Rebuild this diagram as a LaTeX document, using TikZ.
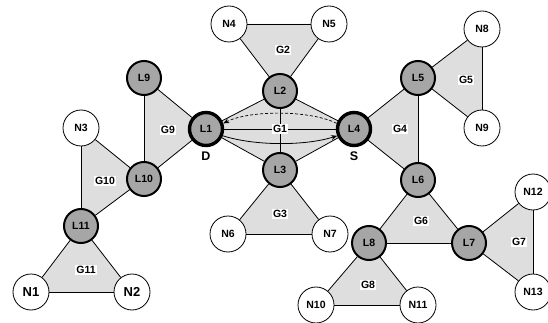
\documentclass[tikz,border=0pt]{standalone}
\usepackage{fontspec}
\setmainfont{Liberation Sans}
\usetikzlibrary{arrows.meta,backgrounds}
\begin{document}
\begin{tikzpicture}[x=1pt,y=-1pt,
  every node/.style={font=\bfseries\fontsize{10.5}{11}\selectfont},
  nnode/.style={circle,draw=black,line width=0.8pt,fill=white,minimum size=36pt,inner sep=0pt},
  lnode/.style={circle,draw=black,line width=2pt,fill=black!35,minimum size=34pt,inner sep=0pt},
  snode/.style={circle,draw=black,line width=3.4pt,fill=black!35,minimum size=33pt,inner sep=0pt},
  glabel/.style={fill=white,inner sep=1pt},
  tri/.style={fill=black!13},
  edge/.style={draw=black,line width=0.8pt},
  tip/.style={-{Stealth[length=6pt,width=5pt]}}
]
\useasboundingbox (0,0) rectangle (548,323);
% nodes
\node[nnode] (N4) at (229,24) {N4};
\node[nnode] (N5) at (329,24) {N5};
\node[lnode] (L2) at (280,91) {L2};
\node[snode] (L1) at (206,129) {L1};
\node[snode] (L4) at (354,129) {L4};
\node[lnode] (L3) at (280,170) {L3};
\node[nnode] (N6) at (228,234) {N6};
\node[nnode] (N7) at (330,234) {N7};
\node[lnode] (L9) at (144,78) {L9};
\node[nnode] (N3) at (81,128) {N3};
\node[lnode] (L10) at (144,179) {L10};
\node[lnode] (L11) at (81,226) {L11};
\node[nnode,font=\bfseries\fontsize{13}{14}\selectfont] (N1) at (31,292) {N1};
\node[nnode,font=\bfseries\fontsize{13}{14}\selectfont] (N2) at (132,292) {N2};
\node[lnode] (L5) at (418,78) {L5};
\node[nnode] (N8) at (482,29) {N8};
\node[nnode] (N9) at (482,128) {N9};
\node[lnode] (L6) at (418,180) {L6};
\node[lnode] (L8) at (369,243) {L8};
\node[lnode] (L7) at (469,243) {L7};
\node[nnode] (N12) at (533,192) {N12};
\node[nnode] (N13) at (533,292) {N13};
\node[nnode] (N10) at (316,305) {N10};
\node[nnode] (N11) at (418,305) {N11};
% D, S
\node[font=\bfseries\fontsize{12.5}{13}\selectfont] (D) at (206,156) {D};
\node[font=\bfseries\fontsize{12.5}{13}\selectfont] (S) at (354,156) {S};
\begin{pgfonlayer}{background}
\fill[white] (0,0) rectangle (548,323);
\fill[tri] (N4.center) -- (N5.center) -- (L2.center) -- cycle;
\fill[tri] (L1.center) -- (L2.center) -- (L4.center) -- (L3.center) -- cycle;
\fill[tri] (L3.center) -- (N6.center) -- (N7.center) -- cycle;
\fill[tri] (L9.center) -- (L1.center) -- (L10.center) -- cycle;
\fill[tri] (N3.center) -- (L10.center) -- (L11.center) -- cycle;
\fill[tri] (L11.center) -- (N1.center) -- (N2.center) -- cycle;
\fill[tri] (L4.center) -- (L5.center) -- (L6.center) -- cycle;
\fill[tri] (L5.center) -- (N8.center) -- (N9.center) -- cycle;
\fill[tri] (L6.center) -- (L8.center) -- (L7.center) -- cycle;
\fill[tri] (L7.center) -- (N12.center) -- (N13.center) -- cycle;
\fill[tri] (L8.center) -- (N10.center) -- (N11.center) -- cycle;
\end{pgfonlayer}
% edges
\foreach \a/\b in {N4/N5,N4/L2,N5/L2,L1/L2,L2/L4,L4/L3,L3/L1,L2/L3,L1/L4,
  L3/N6,L3/N7,N6/N7,L9/L1,L9/L10,L1/L10,N3/L10,N3/L11,L10/L11,L11/N1,L11/N2,N1/N2,
  L4/L5,L4/L6,L5/L6,L5/N8,L5/N9,N8/N9,L6/L8,L6/L7,L8/L7,L7/N12,L7/N13,N12/N13,
  L8/N10,L8/N11,N10/N11}
  \draw[edge] (\a) -- (\b);
% arrows in G1
\draw[edge,tip] (L1.-22) .. controls (255,146) and (305,146) .. (L4.-158);
\draw[edge,tip,densely dashed,line width=0.7pt] (L4.162) .. controls (310,110) and (250,110) .. (L1.18);
% group labels
\node[glabel] (G1) at (280,129) {G1};
\node[glabel] (G2) at (283,50) {G2};
\node[glabel] (G3) at (280,214) {G3};
\node[glabel] (G9) at (168,130) {G9};
\node[glabel] (G10) at (105,181) {G10};
\node[glabel] (G11) at (86,270) {G11};
\node[glabel] (G4) at (400,129) {G4};
\node[glabel] (G5) at (466,80) {G5};
\node[glabel] (G6) at (421,221) {G6};
\node[glabel] (G7) at (519,242) {G7};
\node[glabel] (G8) at (368,285) {G8};
\end{tikzpicture}
\end{document}
